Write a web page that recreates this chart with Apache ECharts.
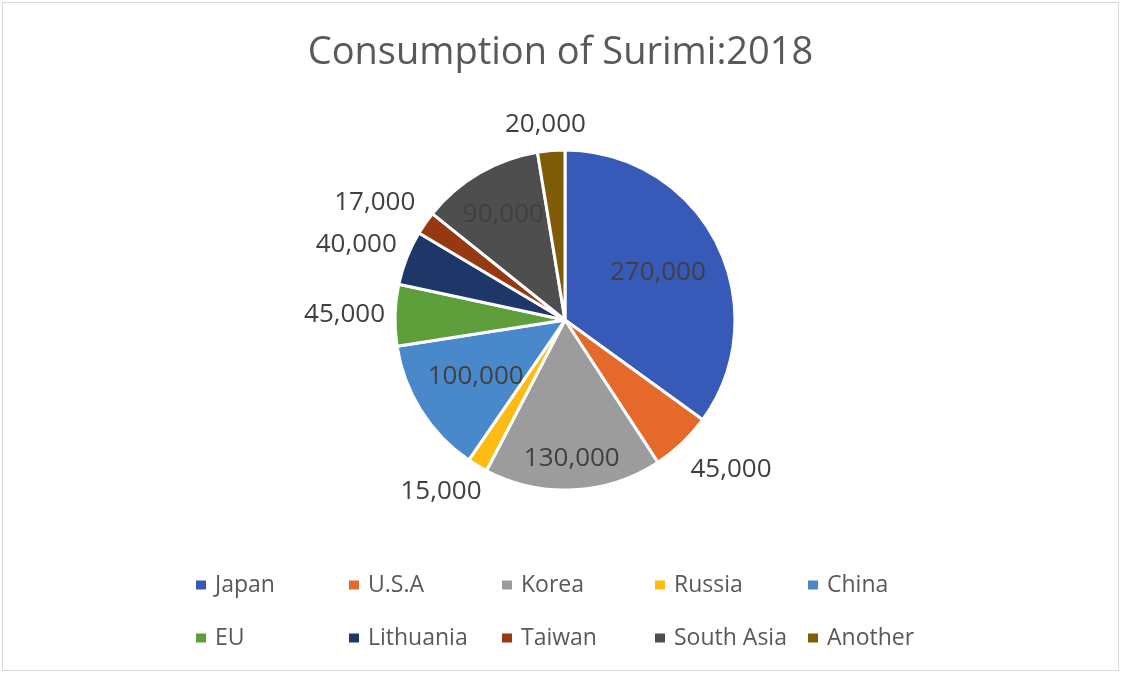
<!DOCTYPE html>
<html>
<head>
<meta charset="utf-8">
<script src="https://cdn.jsdelivr.net/npm/echarts@6/dist/echarts.min.js"></script>
<style>
  html, body { margin: 0; padding: 0; background: #fff; }
  #main { position: absolute; left: 2px; top: 2px; width: 1117px; height: 669px; border: 1px solid #d9d9d9; box-sizing: border-box; }
</style>
</head>
<body>
<div id="main"></div>
<script>
// surimi consumption 2018 (tonnes)
var countries = ['Japan', 'U.S.A', 'Korea', 'Russia', 'China', 'EU', 'Lithuania', 'Taiwan', 'South Asia', 'Another'];
var amounts = [270000, 45000, 130000, 15000, 100000, 45000, 40000, 17000, 90000, 20000];
var colors = ['#3759B8', '#E4692A', '#9C9C9C', '#FDBB14', '#4A88CC', '#5E9F3C', '#1F3668', '#963810', '#4E4E4E', '#7F5C08'];
// which labels sit inside the slice (Excel "best fit")
var insideLabel = [true, false, true, false, true, false, false, false, true, false];

var pieCenter = [562, 317];
var pieRadius = 170;

// mid angle of every slice, clockwise from 12 o'clock
var total = amounts.reduce(function (a, b) { return a + b; }, 0);
var midAngles = [];
var acc = 0;
amounts.forEach(function (v) {
    midAngles.push((acc + v / 2) / total * Math.PI * 2);
    acc += v;
});

function push(t) {
    return (t < 0 ? -1 : 1) * Math.min(1, Math.abs(t) * 1.4);
}

var myChart = echarts.init(document.getElementById('main'));

var data = countries.map(function (name, i) {
    return {
        name: name,
        value: amounts[i],
        itemStyle: { color: colors[i] },
        label: insideLabel[i] ? { position: 'inside', color: '#404040' } : { position: 'outside' }
    };
});

myChart.setOption({
    title: {
        text: 'Consumption of Surimi:2018',
        left: 'center',
        top: 26,
        textStyle: { fontFamily: 'Open Sans', fontSize: 38, fontWeight: 'normal', color: '#595959' }
    },
    legend: {
        data: countries,
        left: 191,
        top: 563,
        padding: 0,
        width: 760,
        itemWidth: 12,
        itemHeight: 11,
        itemGap: 15,
        icon: 'rect',
        textStyle: { fontFamily: 'Open Sans', fontSize: 23, color: '#595959', width: 117, padding: [0, 0, 0, 3], lineHeight: 38 }
    },
    series: [
        {
            type: 'pie',
            radius: pieRadius,
            center: pieCenter,
            startAngle: 90,
            clockwise: true,
            avoidLabelOverlap: false,
            data: data,
            itemStyle: { borderColor: '#fff', borderWidth: 3 },
            label: {
                formatter: function (p) { return p.value.toLocaleString('en-US'); },
                fontFamily: 'Open Sans',
                fontSize: 26,
                color: '#404040'
            },
            labelLine: { show: false, length: 8, length2: 0 },
            // Excel-like placement: inside labels with the outer edge ~18px in from the rim,
            // outside labels hung off the rim point at the slice's mid angle
            labelLayout: function (p) {
                var r = p.labelRect;
                var hw = r.width / 2, hh = r.height / 2 - 2;
                var cx = r.x + r.width / 2, cy = r.y + r.height / 2;
                var a = midAngles[p.dataIndex];
                var ux = Math.sin(a), uy = -Math.cos(a);
                var tx, ty;
                if (insideLabel[p.dataIndex]) {
                    var d = pieRadius - 18 - Math.abs(ux) * hw - Math.abs(uy) * hh;
                    tx = pieCenter[0] + ux * d;
                    ty = pieCenter[1] + uy * d;
                } else {
                    tx = pieCenter[0] + ux * pieRadius + push(ux) * (hw + 10);
                    ty = pieCenter[1] + uy * pieRadius + push(uy) * (hh + 15);
                }
                return { dx: tx - cx, dy: ty - cy };
            },
            emphasis: { scale: false }
        }
    ]
});
</script>
</body>
</html>
